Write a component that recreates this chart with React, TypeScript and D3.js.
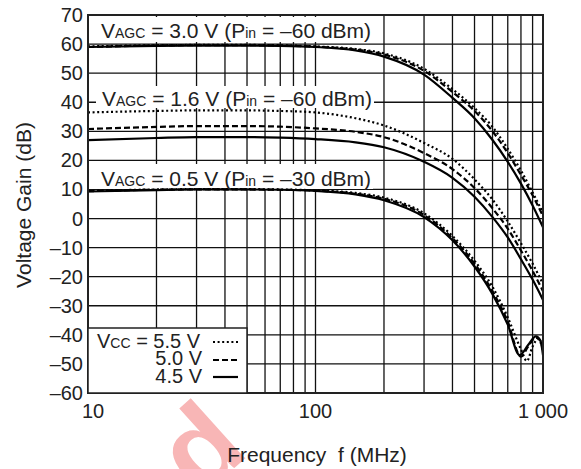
import React from 'react';
import * as d3 from 'd3';

const W = 581;
const H = 469;

// frequency grids (MHz)
const freqMain = [10, 20, 30, 50, 70, 100, 150, 200, 300, 400, 500, 600, 700, 800, 900, 1000];

// VAGC = 3.0 V
const top55 = [59.2, 59.6, 59.7, 59.7, 59.6, 59.2, 58.3, 56.8, 51.5, 44.5, 38, 31.5, 24, 16.5, 9, 2];
const top50 = [59.0, 59.5, 59.6, 59.6, 59.5, 59.1, 58.1, 56.4, 50.8, 43.5, 37, 30, 22.5, 15, 8, 0.8];
const top45 = [59.0, 59.4, 59.5, 59.5, 59.4, 59.0, 57.8, 55.7, 49.5, 41.5, 34.5, 27, 19.5, 12, 4.5, -3];

// VAGC = 1.6 V
const mid55 = [36.5, 37, 37.2, 37.2, 37, 36.5, 34.5, 32, 26, 20.5, 13.5, 6.5, -1, -8.5, -15.5, -22.5];
const mid50 = [30.8, 31.5, 31.8, 31.8, 31.6, 31, 29.8, 28, 22.5, 17, 10.5, 3.5, -3.5, -11, -18, -25];
const mid45 = [27, 27.7, 28, 28, 27.8, 27.3, 26.2, 24.5, 19.5, 14, 7.5, 0.5, -6.5, -14, -21, -28];

// VAGC = 0.5 V
const lowFreq55 = [10, 20, 30, 50, 70, 100, 150, 200, 300, 400, 500, 600, 700, 800, 850, 900, 950, 1000];
const low55 = [9.5, 10, 10.1, 10.1, 10, 9.7, 8.8, 7.2, 1.8, -6, -14.5, -23.5, -34, -45, -49, -44, -41.5, -45];
const lowFreq50 = [10, 20, 30, 50, 70, 100, 150, 200, 300, 400, 500, 600, 700, 800, 860, 930, 975, 1000];
const low50 = [9.4, 9.9, 10, 10, 9.9, 9.6, 8.5, 6.8, 1.2, -6.8, -15.5, -25, -35.5, -47.5, -44, -41, -42, -46];
const lowFreq45 = [10, 20, 30, 50, 70, 100, 150, 200, 300, 400, 500, 600, 700, 790, 860, 930, 975, 1000];
const low45 = [9.3, 9.8, 10, 10, 9.9, 9.5, 8.3, 6.3, 0.5, -7.5, -16.5, -26, -36.5, -47, -43.5, -40.5, -42, -47];

const yTicks = [-60, -50, -40, -30, -20, -10, 0, 10, 20, 30, 40, 50, 60, 70];
const xTickLabels = [
  { f: 10, t: '10' },
  { f: 100, t: '100' },
  { f: 1000, t: '1 000' },
];

const FONT = "'Liberation Sans', Arial, Helvetica, sans-serif";

export default function App() {
  const x = d3.scaleLog().domain([10, 1000]).range([88, 543]);
  const y = d3.scaleLinear().domain([-60, 70]).range([393, 15]);
  const line = (fs: number[], vs: number[]) =>
    d3
      .line<number>()
      .x((_, i) => x(fs[i]))
      .y((v) => y(v))
      .curve(d3.curveMonotoneX)(vs) as string;

  const xGrid = x.ticks();
  const styles: Record<string, any> = {
    '5.5': { strokeDasharray: '2,2.6' },
    '5.0': { strokeDasharray: '6,3' },
    '4.5': {},
  };
  const series = [
    { fs: freqMain, vs: top55, k: '5.5' },
    { fs: freqMain, vs: top50, k: '5.0' },
    { fs: freqMain, vs: top45, k: '4.5' },
    { fs: freqMain, vs: mid55, k: '5.5' },
    { fs: freqMain, vs: mid50, k: '5.0' },
    { fs: freqMain, vs: mid45, k: '4.5' },
    { fs: lowFreq55, vs: low55, k: '5.5' },
    { fs: lowFreq50, vs: low50, k: '5.0' },
    { fs: lowFreq45, vs: low45, k: '4.5' },
  ];

  const lbl = (xx: number, yy: number, v: string, p: string) => (
    <text x={xx} y={yy} fontSize={21} fontFamily={FONT} fill="#222">
      V<tspan fontSize={14}>AGC</tspan> = {v} V (P<tspan fontSize={14}>in</tspan> = –{p} dBm)
    </text>
  );

  return (
    <svg width={W} height={H} style={{ position: 'absolute', left: 0, top: 0 }}>
      <rect width={W} height={H} fill="#fff" />
      {/* watermark */}
      <text
        x={0}
        y={0}
        transform="translate(200,499) rotate(-42)"
        fontSize={112}
        fontWeight="bold"
        fontFamily={FONT}
        fill="#f8b6b6"
      >
        d
      </text>
      {/* grid */}
      {xGrid.map((f) => (
        <line key={'vx' + f} x1={x(f)} x2={x(f)} y1={15} y2={393} stroke="#111" strokeWidth={1.3} />
      ))}
      {yTicks.map((v) => (
        <line key={'hy' + v} x1={88} x2={543} y1={y(v)} y2={y(v)} stroke="#111" strokeWidth={1.3} />
      ))}
      {/* label backgrounds */}
      <rect x={89} y={17} width={284} height={25} fill="#fff" />
      <rect x={96} y={86} width={278} height={22} fill="#fff" />
      <rect x={89} y={164} width={284} height={25} fill="#fff" />
      {/* curves */}
      {series.map((s, i) => (
        <path
          key={i}
          d={line(s.fs, s.vs)}
          fill="none"
          stroke="#000"
          strokeWidth={2.2}
          {...styles[s.k]}
        />
      ))}
      {/* border */}
      <rect x={88} y={15} width={455} height={378} fill="none" stroke="#222" strokeWidth={2} />
      {/* labels */}
      {lbl(101, 38, '3.0', '60')}
      {lbl(102, 106, '1.6', '60')}
      {lbl(101, 186, '0.5', '30')}
      {/* legend */}
      <rect x={88} y={328} width={159} height={65} fill="#fff" stroke="#222" strokeWidth={1.5} />
      <text x={97} y={348} fontSize={20} fontFamily={FONT} fill="#222">
        V<tspan fontSize={14}>CC</tspan> = 5.5 V
      </text>
      <text x={202} y={365} fontSize={20} fontFamily={FONT} fill="#222" textAnchor="end">
        5.0 V
      </text>
      <text x={202} y={383} fontSize={20} fontFamily={FONT} fill="#222" textAnchor="end">
        4.5 V
      </text>
      <line x1={213} x2={238} y1={342} y2={342} stroke="#000" strokeWidth={2.2} strokeDasharray="2,2.6" />
      <line x1={213} x2={238} y1={360} y2={360} stroke="#000" strokeWidth={2.2} strokeDasharray="6,3" />
      <line x1={213} x2={238} y1={377} y2={377} stroke="#000" strokeWidth={2.2} />
      {/* y tick labels */}
      {yTicks.map((v) => (
        <text key={'yl' + v} x={83} y={y(v) + 7} fontSize={20} fontFamily={FONT} textAnchor="end" fill="#222">
          {v < 0 ? '–' + Math.abs(v) : String(v)}
        </text>
      ))}
      {/* x tick labels */}
      {xTickLabels.map((d) => (
        <text
          key={'xl' + d.f}
          x={d.f === 10 ? x(d.f) + 5 : x(d.f)}
          y={418}
          fontSize={20}
          fontFamily={FONT}
          textAnchor="middle"
          fill="#222"
        >
          {d.t}
        </text>
      ))}
      {/* axis titles */}
      <text x={317} y={462} fontSize={21} fontFamily={FONT} textAnchor="middle" fill="#222" xmlSpace="preserve">
        Frequency  f (MHz)
      </text>
      <text
        transform="translate(31,205) rotate(-90)"
        fontSize={21}
        fontFamily={FONT}
        textAnchor="middle"
        fill="#222"
      >
        Voltage Gain (dB)
      </text>
    </svg>
  );
}
